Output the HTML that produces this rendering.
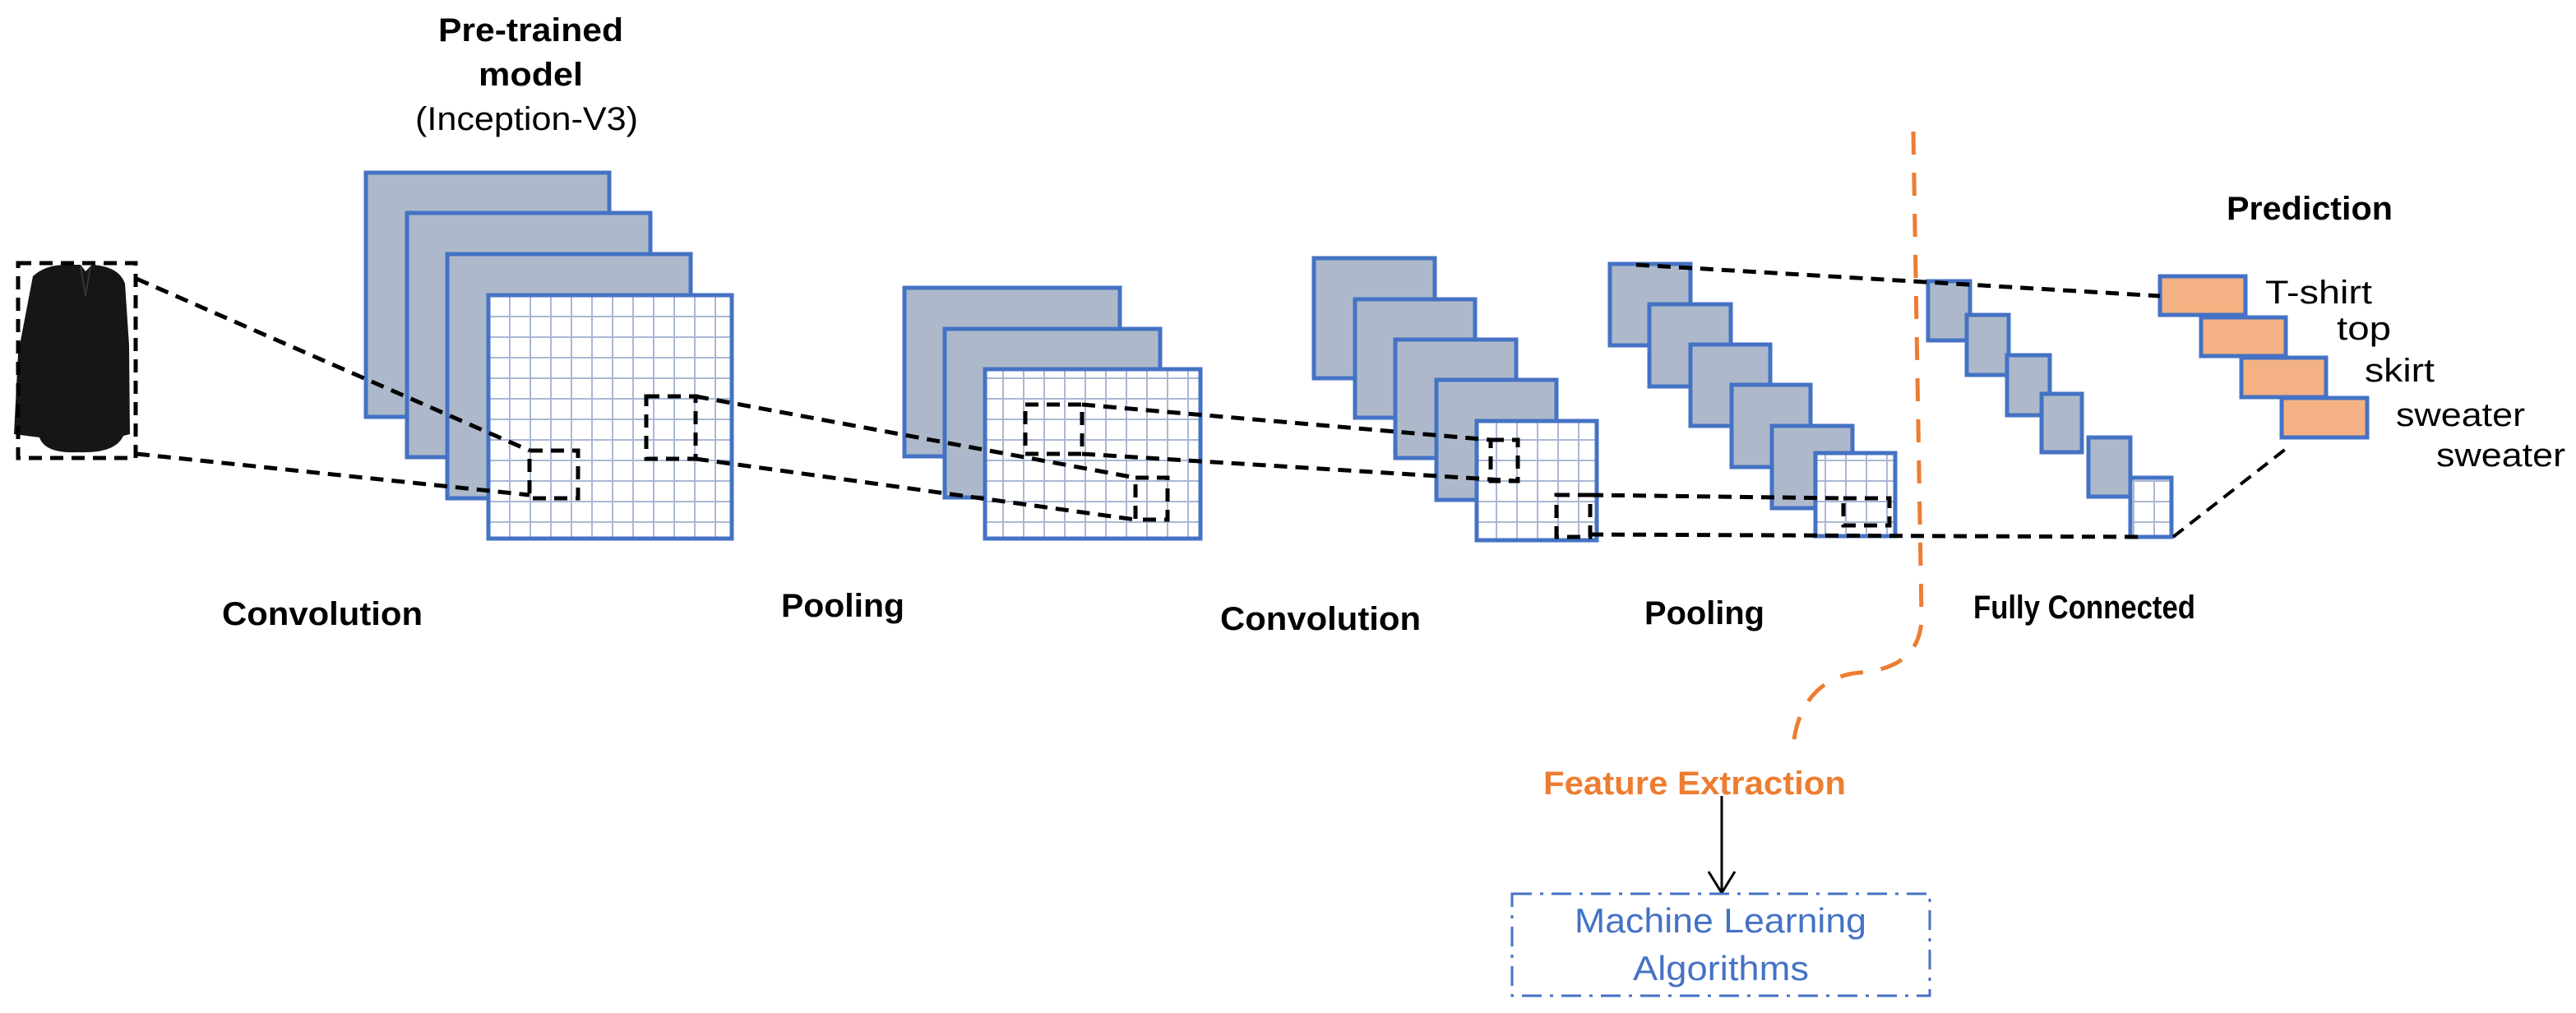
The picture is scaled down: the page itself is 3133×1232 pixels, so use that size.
<!DOCTYPE html>
<html><head><meta charset="utf-8"><style>
html,body{margin:0;padding:0;background:#fff;}
svg{display:block;}
text{font-family:"Liberation Sans",sans-serif;}
</style></head><body>
<svg width="3133" height="1232" viewBox="0 0 3133 1232" xmlns="http://www.w3.org/2000/svg">
<defs>
<pattern id="g25" x="594" y="359" width="25" height="25" patternUnits="userSpaceOnUse">
<path d="M0 0H25M0 0V25" stroke="#aab8d4" stroke-width="4" fill="none"/>
</pattern>
</defs>
<g stroke="#4472c4" stroke-width="5" fill="#adb9ca">
<rect x="445" y="210" width="296" height="297"/>
<rect x="495" y="259" width="296" height="297"/>
<rect x="544" y="309" width="296" height="297"/>
<rect x="594" y="359" width="296" height="296" fill="#fff"/>
<rect x="1100" y="350" width="262" height="205"/>
<rect x="1149" y="400" width="262" height="205"/>
<rect x="1198" y="449" width="262" height="206" fill="#fff"/>
<rect x="1598" y="314" width="147" height="146"/>
<rect x="1648" y="364" width="146" height="144"/>
<rect x="1697" y="413" width="147" height="144"/>
<rect x="1747" y="462" width="146" height="146"/>
<rect x="1796" y="512" width="146" height="145" fill="#fff"/>
<rect x="1958" y="321" width="98" height="99"/>
<rect x="2006" y="370" width="99" height="100"/>
<rect x="2056" y="419" width="97" height="99"/>
<rect x="2106" y="468" width="96" height="100"/>
<rect x="2155" y="518" width="98" height="100"/>
<rect x="2208" y="551" width="97" height="101" fill="#fff"/>
<rect x="2345" y="342" width="51" height="72"/>
<rect x="2392" y="383" width="51" height="73"/>
<rect x="2441" y="432" width="52" height="73"/>
<rect x="2483" y="479" width="49" height="71"/>
<rect x="2540" y="532" width="51" height="72"/>
<rect x="2591" y="581" width="50" height="72" fill="#fff"/>
</g>
<g fill="url(#g25)">
<rect x="596" y="361" width="292" height="292"/>
<rect x="1200" y="451" width="258" height="202"/>
<rect x="1798" y="514" width="142" height="141"/>
<rect x="2210" y="553" width="93" height="97"/>
<rect x="2593" y="583" width="46" height="68"/>
</g>
<g stroke="#4472c4" stroke-width="5" fill="none">
<rect x="594" y="359" width="296" height="296"/>
<rect x="1198" y="449" width="262" height="206"/>
<rect x="1796" y="512" width="146" height="145"/>
<rect x="2208" y="551" width="97" height="101"/>
<rect x="2591" y="581" width="50" height="72"/>
</g>
<g stroke="#4472c4" stroke-width="5" fill="#f4b183">
<rect x="2627" y="336" width="104" height="47"/>
<rect x="2677" y="386" width="103" height="47"/>
<rect x="2726" y="435" width="103" height="48"/>
<rect x="2775" y="484" width="104" height="48"/>
</g>
<path d="M40,336 Q55,322 80,322 L98,322 L104,330 L112,322 Q145,324 152,345 L157,420 L158,528 L150,530 Q140,552 95,550 Q55,552 48,532 L17,528 L22,430 Z" fill="#161616"/>
<path d="M98,324 L104,360 L110,324" stroke="#333" stroke-width="2" fill="none"/>
<g stroke="#000" stroke-width="5" fill="none" stroke-dasharray="16 10">
<rect x="22" y="320" width="143" height="237"/>
<rect x="644" y="548" width="59" height="58"/>
<rect x="786" y="482" width="60" height="76"/>
<rect x="1247" y="492" width="69" height="60"/>
<rect x="1381" y="581" width="39" height="51"/>
<rect x="1813" y="535" width="33" height="50"/>
<rect x="1893" y="602" width="41" height="51"/>
<rect x="2242" y="606" width="56" height="33"/>
<line x1="166" y1="339" x2="644" y2="548"/>
<line x1="166" y1="552" x2="644" y2="602"/>
<line x1="846" y1="482" x2="1381" y2="581"/>
<line x1="846" y1="558" x2="1381" y2="632"/>
<line x1="1316" y1="492" x2="1813" y2="535"/>
<line x1="1316" y1="552" x2="1846" y2="585"/>
<line x1="1934" y1="602" x2="2242" y2="606"/>
<line x1="1934" y1="650" x2="2600" y2="653"/>
<line x1="1990" y1="322" x2="2627" y2="360"/>
</g>
<line x1="2643" y1="653" x2="2780" y2="546" stroke="#000" stroke-width="4" stroke-dasharray="16 10"/>
<path d="M2327,160 L2337,750 C2337,800 2300,815 2262,818 C2212,822 2184,860 2181,910" stroke="#ed7d31" stroke-width="5" fill="none" stroke-dasharray="28 22"/>
<line x1="2094" y1="968" x2="2094" y2="1084" stroke="#000" stroke-width="3"/>
<path d="M2078,1060 L2094,1086 L2110,1060" stroke="#000" stroke-width="3" fill="none"/>
<rect x="1839" y="1087" width="508" height="124" fill="none" stroke="#4472c4" stroke-width="3" stroke-dasharray="24 10 4 10"/>
<g font-weight="bold" font-size="40" fill="#000">
<text x="533" y="50" textLength="225" lengthAdjust="spacingAndGlyphs">Pre-trained</text>
<text x="582" y="104" textLength="127" lengthAdjust="spacingAndGlyphs">model</text>
<text x="270" y="760" textLength="244" lengthAdjust="spacingAndGlyphs">Convolution</text>
<text x="950" y="750" textLength="150" lengthAdjust="spacingAndGlyphs">Pooling</text>
<text x="1484" y="766" textLength="244" lengthAdjust="spacingAndGlyphs">Convolution</text>
<text x="2000" y="759" textLength="146" lengthAdjust="spacingAndGlyphs">Pooling</text>
<text x="2400" y="752" textLength="270" lengthAdjust="spacingAndGlyphs">Fully Connected</text>
<text x="2708" y="267" textLength="202" lengthAdjust="spacingAndGlyphs">Prediction</text>
<text x="1877" y="966" fill="#ed7d31" textLength="368" lengthAdjust="spacingAndGlyphs">Feature Extraction</text>
</g>
<g font-size="40" fill="#000">
<text x="505" y="158" textLength="271" lengthAdjust="spacingAndGlyphs">(Inception-V3)</text>
<text x="2755" y="369" textLength="130" lengthAdjust="spacingAndGlyphs">T-shirt</text>
<text x="2842" y="413" textLength="66" lengthAdjust="spacingAndGlyphs">top</text>
<text x="2876" y="464" textLength="85" lengthAdjust="spacingAndGlyphs">skirt</text>
<text x="2914" y="518" textLength="157" lengthAdjust="spacingAndGlyphs">sweater</text>
<text x="2963" y="567" textLength="157" lengthAdjust="spacingAndGlyphs">sweater</text>
</g>
<g font-size="42" fill="#4472c4">
<text x="1915" y="1134" textLength="355" lengthAdjust="spacingAndGlyphs">Machine Learning</text>
<text x="1986" y="1192" textLength="214" lengthAdjust="spacingAndGlyphs">Algorithms</text>
</g>
</svg>
</body></html>
